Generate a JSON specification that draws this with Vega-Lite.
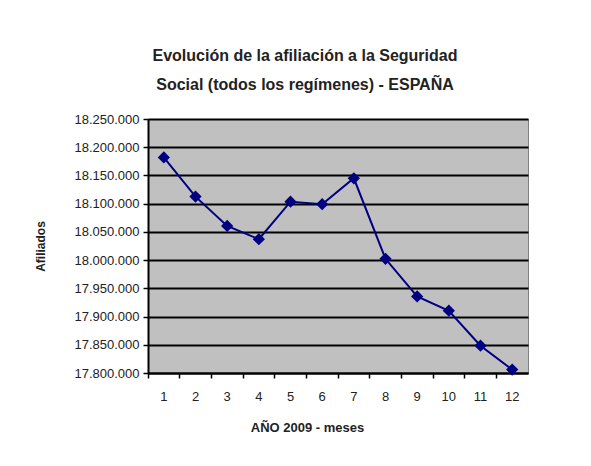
{
  "$schema": "https://vega.github.io/schema/vega-lite/v6.json",
  "width": 380,
  "height": 254,
  "autosize": {"type": "none"},
  "padding": {"left": 148, "top": 119, "right": 63, "bottom": 93},
  "background": "white",
  "title": {
    "text": ["Evolución de la afiliación a la Seguridad", "Social (todos los regímenes) - ESPAÑA"],
    "font": "Liberation Sans",
    "fontSize": 16,
    "fontWeight": "bold",
    "color": "#222222",
    "anchor": "middle",
    "dx": -33,
    "offset": 20,
    "lineHeight": 29
  },
  "config": {
    "locale": {"number": {"decimal": ",", "thousands": ".", "grouping": [3], "currency": ["", " €"]}},
    "view": {"fill": "#c0c0c0", "stroke": "#808080", "strokeWidth": 1},
    "axis": {"labelFont": "Liberation Sans", "titleFont": "Liberation Sans", "labelColor": "#222222", "titleColor": "#222222"}
  },
  "data": {
    "values": [
      {"mes": 1, "afiliados": 18182000},
      {"mes": 2, "afiliados": 18112500},
      {"mes": 3, "afiliados": 18060500},
      {"mes": 4, "afiliados": 18037000},
      {"mes": 5, "afiliados": 18103500},
      {"mes": 6, "afiliados": 18099000},
      {"mes": 7, "afiliados": 18145000},
      {"mes": 8, "afiliados": 18002300},
      {"mes": 9, "afiliados": 17935600},
      {"mes": 10, "afiliados": 17910300},
      {"mes": 11, "afiliados": 17848400},
      {"mes": 12, "afiliados": 17806000}
    ]
  },
  "encoding": {
    "x": {
      "field": "mes",
      "type": "ordinal",
      "bandPosition": 0.5,
      "scale": {"type": "band", "paddingInner": 0, "paddingOuter": 0},
      "axis": {
        "title": "AÑO 2009 - meses",
        "titleFontSize": 13,
        "titleFontWeight": "bold",
        "titleX": 159,
        "titleAlign": "center",
        "titlePadding": 18,
        "labelAngle": 0,
        "labelFontSize": 13,
        "labelPadding": 12,
        "bandPosition": 0,
        "ticks": true,
        "tickSize": 5,
        "tickColor": "black",
        "tickWidth": 1.5,
        "domainColor": "black",
        "domainWidth": 2,
        "grid": false
      }
    },
    "y": {
      "field": "afiliados",
      "type": "quantitative",
      "scale": {"domain": [17800000, 18250000], "zero": false, "nice": false},
      "axis": {
        "title": "Afiliados",
        "titleFontSize": 12,
        "titleFontWeight": "bold",
        "titlePadding": 26,
        "values": [17800000, 17850000, 17900000, 17950000, 18000000, 18050000, 18100000, 18150000, 18200000, 18250000],
        "format": ",d",
        "labelFontSize": 13,
        "labelPadding": 4,
        "tickSize": 5,
        "tickColor": "black",
        "tickWidth": 1.5,
        "domainColor": "black",
        "domainWidth": 2,
        "grid": true,
        "gridColor": "black",
        "gridWidth": 2
      }
    }
  },
  "layer": [
    {"mark": {"type": "line", "color": "#000080", "strokeWidth": 2}},
    {"mark": {"type": "point", "shape": "diamond", "filled": true, "color": "#000080", "size": 150, "opacity": 1}}
  ]
}
